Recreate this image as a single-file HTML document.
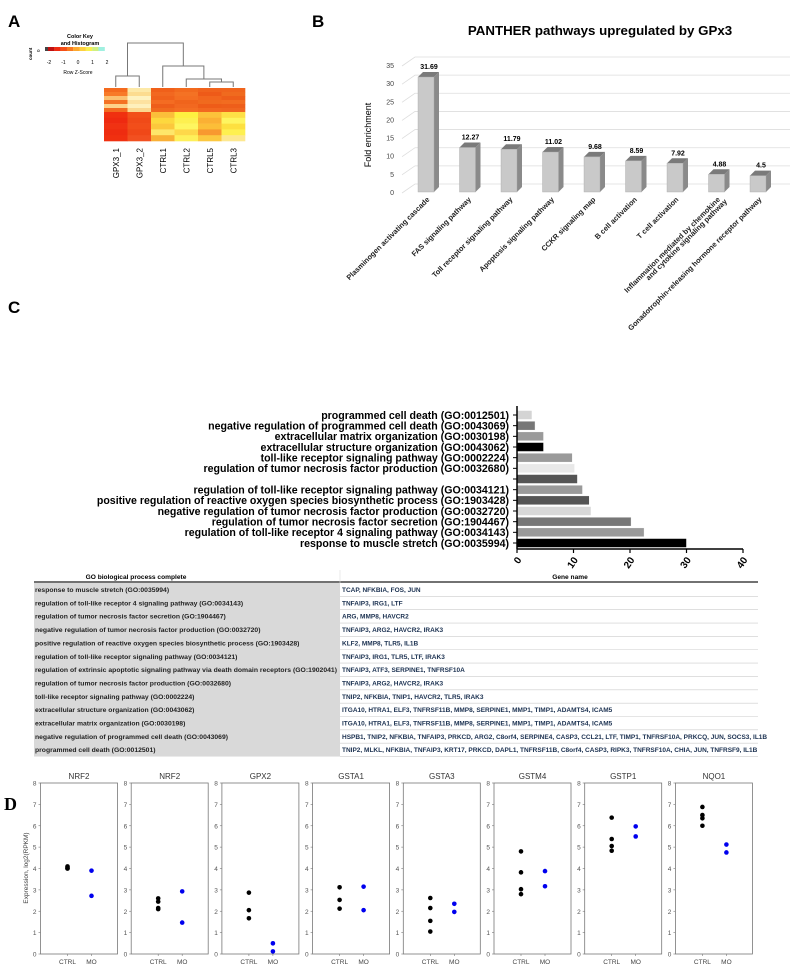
<!DOCTYPE html>
<html><head><meta charset="utf-8"><style>body{margin:0;background:#fff}svg{display:block;font-family:"Liberation Sans",sans-serif}</style></head>
<body>
<svg id="fig" width="797" height="969" viewBox="0 0 797 969" xmlns="http://www.w3.org/2000/svg">
<text x="8" y="27" font-size="17" font-weight="bold">A</text>
<text x="312" y="27" font-size="17" font-weight="bold">B</text>
<text x="8" y="313" font-size="17" font-weight="bold">C</text>
<text x="4" y="810" font-size="18" font-weight="bold" font-family="Liberation Serif,serif">D</text>
<g id="A"></g>
<g id="B"></g>
<g id="C"></g>
<g id="T"></g>
<g id="D"></g>
</svg>
<script>
// ---------- Panel B data ----------
const bCats=["Plasminogen activating cascade","FAS signaling pathway","Toll receptor signaling pathway","Apoptosis signaling pathway","CCKR signaling map","B cell activation","T cell activation","Inflammation mediated by chemokine|and cytokine signaling pathway","Gonadotrophin-releasing hormone receptor pathway"];
const bVals=[31.69,12.27,11.79,11.02,9.68,8.59,7.92,4.88,4.5];
const bLabels=["31.69","12.27","11.79","11.02","9.68","8.59","7.92","4.88","4.5"];
const bTicks=[0,5,10,15,20,25,30,35];
// ---------- Panel C data ----------
const cCats=["programmed cell death (GO:0012501)","negative regulation of programmed cell death (GO:0043069)","extracellular matrix organization (GO:0030198)","extracellular structure organization (GO:0043062)","toll-like receptor signaling pathway (GO:0002224)","regulation of tumor necrosis factor production (GO:0032680)","","regulation of toll-like receptor signaling pathway (GO:0034121)","positive regulation of reactive oxygen species biosynthetic process (GO:1903428)","negative regulation of tumor necrosis factor production (GO:0032720)","regulation of tumor necrosis factor secretion (GO:1904467)","regulation of toll-like receptor 4 signaling pathway (GO:0034143)","response to muscle stretch (GO:0035994)"];
const cVals=[2.65,3.2,4.7,4.7,9.8,10.2,10.7,11.6,12.8,13.1,20.2,22.5,30.0];
const cColors=["#d4d4d4","#777","#9a9a9a","#000","#9a9a9a","#e8e8e8","#555","#9a9a9a","#555","#d8d8d8","#777","#9a9a9a","#000"];
const cTicks=[0,10,20,30,40];
// ---------- Table data ----------
const tGO=["response to muscle stretch (GO:0035994)","regulation of toll-like receptor 4 signaling pathway (GO:0034143)","regulation of tumor necrosis factor secretion (GO:1904467)","negative regulation of tumor necrosis factor production (GO:0032720)","positive regulation of reactive oxygen species biosynthetic process (GO:1903428)","regulation of toll-like receptor signaling pathway (GO:0034121)","regulation of extrinsic apoptotic signaling pathway via death domain receptors (GO:1902041)","regulation of tumor necrosis factor production (GO:0032680)","toll-like receptor signaling pathway (GO:0002224)","extracellular structure organization (GO:0043062)","extracellular matrix organization (GO:0030198)","negative regulation of programmed cell death (GO:0043069)","programmed cell death (GO:0012501)"];
const tGenes=["TCAP, NFKBIA, FOS, JUN","TNFAIP3, IRG1, LTF","ARG, MMP8, HAVCR2","TNFAIP3, ARG2, HAVCR2, IRAK3","KLF2, MMP8, TLR5, IL1B","TNFAIP3, IRG1, TLR5, LTF, IRAK3","TNFAIP3, ATF3, SERPINE1, TNFRSF10A","TNFAIP3, ARG2, HAVCR2, IRAK3","TNIP2, NFKBIA, TNIP1, HAVCR2, TLR5, IRAK3","ITGA10, HTRA1, ELF3, TNFRSF11B, MMP8, SERPINE1, MMP1, TIMP1, ADAMTS4, ICAM5","ITGA10, HTRA1, ELF3, TNFRSF11B, MMP8, SERPINE1, MMP1, TIMP1, ADAMTS4, ICAM5","HSPB1, TNIP2, NFKBIA, TNFAIP3, PRKCD, ARG2, C8orf4, SERPINE4, CASP3, CCL21, LTF, TIMP1, TNFRSF10A, PRKCQ, JUN, SOCS3, IL1B","TNIP2, MLKL, NFKBIA, TNFAIP3, KRT17, PRKCD, DAPL1, TNFRSF11B, C8orf4, CASP3, RIPK3, TNFRSF10A, CHIA, JUN, TNFRSF9, IL1B"];
// ---------- Panel D data ----------
const dGenes=["NRF2","NRF2","GPX2","GSTA1","GSTA3","GSTM4","GSTP1","NQO1"];
const dCtrl=[[4.0,4.05,4.1,4.0],[2.6,2.45,2.15,2.1],[2.87,2.05,1.67],[3.12,2.53,2.12],[2.62,2.15,1.55,1.05],[4.8,3.82,3.03,2.8],[6.38,5.38,5.05,4.83],[6.88,6.5,6.35,6.0]];
const dMO=[[3.9,2.72],[2.93,1.47],[0.5,0.12],[3.15,2.05],[2.35,1.97],[3.88,3.17],[5.97,5.5],[5.12,4.75]];
const dTicks=[0,1,2,3,4,5,6,7,8];
// ---------- Panel A data ----------
const aSamples=["GPX3_1","GPX3_2","CTRL1","CTRL2","CTRL5","CTRL3"];
const aTop=[["#f46a1e","#fde9a8","#f0601a","#f26a1e","#f0621c","#f0641c"],["#f87a28","#fcdc90","#f26820","#f47224","#ee5a18","#f06a1e"],["#fbc070","#fef2c0","#f0621c","#f46e22","#f2661e","#ee5e1a"],["#f47224","#fde2a0","#f46c22","#f0641c","#f06a1e","#f26c20"],["#fdd28a","#fef0bc","#ee5e1a","#f26820","#ee5c18","#ee5e1a"],["#f26a20","#fbd890","#f06a1e","#f46e22","#f26820","#f06620"]];
const aBot=[["#f03010","#f2501a","#fbbf3a","#fef040","#fcc23a","#fee046"],["#ee2a10","#f04a18","#fdd83e","#fdf050","#fbb034","#fef560"],["#f03212","#f24e1a","#fcc83c","#fef660","#fcbe38","#fde040"],["#ee2c10","#f04818","#fee66a","#fed84a","#f89830","#fef050"],["#f03010","#f25020","#f9b036","#fef05a","#fcc840","#fde890"]];

const NS="http://www.w3.org/2000/svg";
function mk(p,tag,at,txt){const e=document.createElementNS(NS,tag);for(const k in at)e.setAttribute(k,at[k]);if(txt!==undefined)e.textContent=txt;p.appendChild(e);return e;}

// ===== Panel A =====
(function(){
const g=document.getElementById('A');
const x0=104,w=23.5,yTop=88,yMid=112,yBot=141;
aSamples.forEach((s,i)=>{
  const th=(yMid-yTop)/aTop.length;
  aTop.forEach((row,r)=>{const e=mk(g,'rect',{x:x0+i*w,y:yTop+r*th,width:w+0.3,height:th+0.3,fill:row[i]});
    
    });
  const bh=(yBot-yMid)/aBot.length;
  aBot.forEach((row,r)=>{const e=mk(g,'rect',{x:x0+i*w,y:yMid+r*bh,width:w+0.3,height:bh+0.3,fill:row[i]});
    
    });
  const cx=x0+i*w+w/2;
  const t=mk(g,'text',{x:0,y:0,'font-size':8,'text-anchor':'end',transform:`translate(${cx+3},148) rotate(-90)`},s);
  
  
});
const c=i=>x0+i*w+w/2;
const m45=(c(4)+c(5))/2, m345=(c(3)+m45)/2, m2=(c(2)+m345)/2;
const d=mk(g,'path',{d:`M${c(0)},87 V76 H${c(1)} V87 M${c(4)},87 V82 H${c(5)} V87 M${c(3)},87 V79 H${m45} V82 M${c(2)},87 V66 H${m345} V79 M${(c(0)+c(1))/2},76 V43 H${m2} V66`,fill:'none',stroke:'#777','stroke-width':1});


const key=mk(g,'g',{});


const kc=["#c01010","#ee2a10","#f45018","#f87a20","#fca830","#fed040","#f8f050","#d0f080","#a0f0e0"];
kc.forEach((col,i)=>mk(key,'rect',{x:48+i*6.3,y:47,width:6.4,height:4,fill:col}));
mk(key,'rect',{x:45,y:47,width:3,height:4,fill:'#444'});
mk(key,'text',{x:80,y:38,'font-size':5.5,'font-weight':'bold','text-anchor':'middle'},'Color Key');
mk(key,'text',{x:80,y:45,'font-size':5.5,'font-weight':'bold','text-anchor':'middle'},'and Histogram');
[-2,-1,0,1,2].forEach((v,i)=>mk(key,'text',{x:49+i*14.5,y:64,'font-size':5,'text-anchor':'middle'},String(v)));
mk(key,'text',{x:78,y:74,'font-size':5,'text-anchor':'middle'},'Row Z-Score');
mk(key,'text',{x:0,y:0,'font-size':4.5,'font-weight':'bold',transform:'translate(32,60) rotate(-90)'},'count');
mk(key,'text',{x:0,y:0,'font-size':4.5,transform:'translate(40,52) rotate(-90)'},'0');
})();

// ===== Panel B =====
(function(){
const g=document.getElementById('B');
const y0=192,ppu=127/35,yv=v=>y0-v*ppu;
const x0=418,pitch=41.5,bw=16,dx=5,dy=5;
mk(g,'text',{x:600,y:35,'font-size':13.3,'font-weight':'bold','text-anchor':'middle'},'PANTHER pathways upregulated by GPx3');
bTicks.forEach(t=>{
  const y=yv(t);
  const l=mk(g,'path',{d:`M402,${y+1} L415,${y-8} H790`,stroke:'#ddd','stroke-width':0.8,fill:'none'});
  
  
  const tl=mk(g,'text',{x:394,y:y+3,'font-size':7,fill:'#444','text-anchor':'end'},String(t));
  
  
});
const yt=mk(g,'text',{x:0,y:0,'font-size':9,'text-anchor':'middle',transform:'translate(371,135) rotate(-90)'},'Fold enrichment');


bVals.forEach((v,i)=>{
  const x=x0+i*pitch,y=yv(v);
  const bar=mk(g,'g',{});
  
  
  mk(bar,'path',{d:`M${x+bw},${y} l${dx},${-dy} V${y0-dy} l${-dx},${dy} Z`,fill:'#8a8a8a'});
  mk(bar,'path',{d:`M${x},${y} l${dx},${-dy} h${bw} l${-dx},${dy} Z`,fill:'#7a7a7a'});
  mk(bar,'rect',{x:x,y:y,width:bw,height:y0-y,fill:'#c9c9c9',stroke:'#aaa','stroke-width':0.4});
  const vl=mk(g,'text',{x:x+bw/2+3,y:y-8,'font-size':7,'font-weight':'bold','text-anchor':'middle'},bLabels[i]);
  
  
  const parts=bCats[i].split('|');
  parts.forEach((p,k)=>{
    const cx=x+bw/2+4+k*7,cy=200+k*2;
    const t=mk(g,'text',{x:0,y:0,'font-size':7.4,'font-weight':'bold',fill:'#222','text-anchor':'end',transform:`translate(${cx},${cy}) rotate(-45)`},p);
    
    
  });
});
})();

// ===== Panel C =====
(function(){
const g=document.getElementById('C');
const x0=517,ppu=226/40,y1=415,step=(543-415)/12,bh=9;
cCats.forEach((c,i)=>{
  const y=y1+i*step;
  const b=mk(g,'rect',{x:x0,y:y-bh/2,width:cVals[i]*ppu,height:bh,fill:cColors[i],stroke:'#fff','stroke-width':0.5});
  
  
  mk(g,'line',{x1:x0-4,x2:x0,y1:y,y2:y,stroke:'#000','stroke-width':1});
  if(c){const t=mk(g,'text',{x:x0-8,y:y+3.8,'font-size':10.6,'font-weight':'bold','text-anchor':'end'},c);
  
  }
});
mk(g,'line',{x1:x0,x2:x0,y1:406,y2:549,stroke:'#000','stroke-width':1.5});
mk(g,'line',{x1:x0,x2:x0+226,y1:549,y2:549,stroke:'#000','stroke-width':1.5});
cTicks.forEach(t=>{
  const x=x0+t*ppu;
  mk(g,'line',{x1:x,x2:x,y1:549,y2:553,stroke:'#000','stroke-width':1.2});
  const tl=mk(g,'text',{x:0,y:0,'font-size':10,'font-weight':'bold','text-anchor':'end',transform:`translate(${x+5},560) rotate(-55)`},String(t));
  
  
});
})();

// ===== Table =====
(function(){
const g=document.getElementById('T');
const y0=583,rh=13.35;
mk(g,'text',{x:136,y:579,'font-size':6.6,'font-weight':'bold','text-anchor':'middle'},'GO biological process complete');
mk(g,'text',{x:570,y:579,'font-size':6.6,'font-weight':'bold','text-anchor':'middle'},'Gene name');
mk(g,'rect',{x:34,y:y0,width:306,height:rh*13,fill:'#d9d9d9'});
mk(g,'line',{x1:34,x2:758,y1:582,y2:582,stroke:'#444','stroke-width':1.5});
mk(g,'line',{x1:340,x2:340,y1:570,y2:583,stroke:'#ddd','stroke-width':0.6});
tGO.forEach((s,i)=>{
  const y=y0+i*rh;
  mk(g,'line',{x1:340,x2:758,y1:y+rh,y2:y+rh,stroke:'#ccc','stroke-width':0.6});
  const a=mk(g,'text',{x:35,y:y+9,'font-size':6.8,'font-weight':'bold',fill:'#222',textLength:s.length>80?302:null});
  a.textContent=s;
  if(s.length<=80)a.removeAttribute('textLength');
  
  
  const b=mk(g,'text',{x:342,y:y+9,'font-size':6.5,'font-weight':'bold',fill:'#1a3050'},tGenes[i]);
  
  
});
})();

// ===== Panel D =====
(function(){
const g=document.getElementById('D');
const top=783,bot=954,ppu=(bot-top)/8,yv=v=>bot-v*ppu,w=77,pitch=90.7,left0=40.5;
const yt=mk(g,'text',{x:0,y:0,'font-size':6.5,fill:'#444','text-anchor':'middle',transform:'translate(28,868) rotate(-90)'},'Expression, log2(RPKM)');


dGenes.forEach((gn,i)=>{
  const L=left0+i*pitch;
  const p=mk(g,'g',{});
  
  
  mk(p,'rect',{x:L,y:top,width:w,height:bot-top,fill:'none',stroke:'#777','stroke-width':0.8});
  mk(p,'text',{x:L+w/2,y:779,'font-size':8,fill:'#333','text-anchor':'middle'},gn);
  dTicks.forEach(t=>{
    mk(p,'line',{x1:L-2,x2:L,y1:yv(t),y2:yv(t),stroke:'#777','stroke-width':0.6});
    mk(p,'text',{x:L-4,y:yv(t)+2.5,'font-size':6.5,fill:'#555','text-anchor':'end'},String(t));
  });
  const cx=L+27,mx=L+51;
  [cx,mx].forEach(x=>mk(p,'line',{x1:x,x2:x,y1:bot,y2:bot+2,stroke:'#777','stroke-width':0.6}));
  mk(p,'text',{x:cx,y:964,'font-size':6.5,fill:'#444','text-anchor':'middle'},'CTRL');
  mk(p,'text',{x:mx,y:964,'font-size':6.5,fill:'#444','text-anchor':'middle'},'MO');
  dCtrl[i].forEach(v=>{const c=mk(p,'circle',{cx:cx,cy:yv(v),r:2.3,fill:'#000'});
    
    });
  dMO[i].forEach(v=>{const c=mk(p,'circle',{cx:mx,cy:yv(v),r:2.3,fill:'#0000ee'});
    
    });
});
})();
</script>
</body></html>
